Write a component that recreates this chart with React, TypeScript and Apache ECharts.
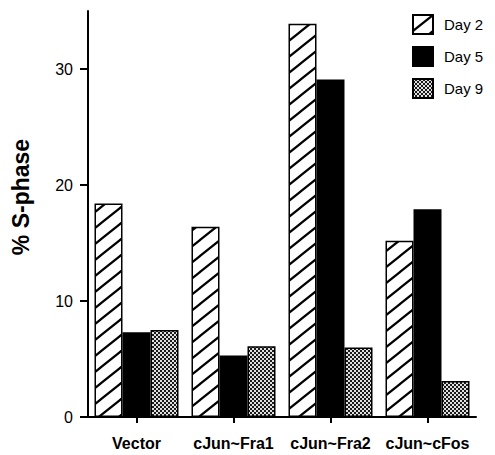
import React, { useEffect, useRef } from "react";
import * as echarts from "echarts";

const categories = ["Vector", "cJun~Fra1", "cJun~Fra2", "cJun~cFos"];
const seriesNames = ["Day 2", "Day 5", "Day 9"];
const day2 = [18.4, 16.4, 33.9, 15.2];
const day5 = [7.3, 5.3, 29.1, 17.9];
const day9 = [7.5, 6.1, 6.0, 3.1];
const yTicks = [0, 10, 20, 30];

const FONT = "'Liberation Sans', Arial, Helvetica, sans-serif";

function hatchCanvas() {
  const w = 20, h = 16;
  const c = document.createElement("canvas");
  c.width = w; c.height = h;
  const ctx = c.getContext("2d")!;
  ctx.fillStyle = "#fff";
  ctx.fillRect(0, 0, w, h);
  ctx.strokeStyle = "#000";
  ctx.lineWidth = 2.2;
  ctx.beginPath();
  ctx.moveTo(-w, 2 * h); ctx.lineTo(2 * w, -h);
  ctx.moveTo(-2 * w, 2 * h); ctx.lineTo(w, -h);
  ctx.moveTo(0, 2 * h); ctx.lineTo(3 * w, -h);
  ctx.stroke();
  return { c, w, h };
}

function dotCanvas() {
  const w = 4, h = 4;
  const c = document.createElement("canvas");
  c.width = w; c.height = h;
  const ctx = c.getContext("2d")!;
  ctx.fillStyle = "#1a1a1a";
  ctx.fillRect(0, 0, w, h);
  ctx.fillStyle = "#e0e0e0";
  ctx.fillRect(0, 0, 2, 2);
  ctx.fillRect(2, 2, 2, 2);
  return { c, w, h };
}

export default function App() {
  const ref = useRef<HTMLDivElement>(null);
  useEffect(() => {
    if (!ref.current) return;
    const chart = echarts.init(ref.current, null, { renderer: "svg" });
    const hatch = hatchCanvas();
    const dots = dotCanvas();
    const fills: any[] = [
      { image: hatch.c, repeat: "repeat", imageWidth: hatch.w, imageHeight: hatch.h },
      "#000",
      { image: dots.c, repeat: "repeat", imageWidth: dots.w, imageHeight: dots.h },
    ];
    const data = [day2, day5, day9];
    chart.setOption({
      animation: false,
      backgroundColor: "#fff",
      grid: { left: 88, right: 19, top: 11, bottom: 38 },
      legend: {
        orient: "vertical",
        left: 407,
        top: 9,
        itemWidth: 20,
        itemHeight: 19,
        itemGap: 11,
        icon: "rect",
        itemStyle: { borderColor: "#000", borderWidth: 2 },
        textStyle: { fontFamily: FONT, fontSize: 15, color: "#000", padding: [0, 0, 0, 6] },
        data: seriesNames,
      },
      xAxis: {
        type: "category",
        data: categories,
        axisLine: { lineStyle: { color: "#000", width: 2 } },
        axisTick: { show: true, alignWithLabel: true, length: 6, lineStyle: { color: "#000", width: 2 } },
        axisLabel: {
          show: true, interval: 0, hideOverlap: false,
          fontFamily: FONT, fontSize: 16, fontWeight: "bold", color: "#000", margin: 18,
        },
      },
      yAxis: {
        type: "value",
        min: 0,
        max: 35,
        interval: 10,
        name: "% S-phase",
        nameLocation: "middle",
        nameGap: 56,
        nameTextStyle: { fontFamily: FONT, fontSize: 23, fontWeight: "bold", color: "#000", padding: [0, 0, 0, 34] },
        splitLine: { show: false },
        axisLine: { show: true, lineStyle: { color: "#000", width: 2 } },
        axisTick: { show: true, length: 8, customValues: yTicks, lineStyle: { color: "#000", width: 2 } },
        axisLabel: {
          fontFamily: FONT, fontSize: 16, color: "#000", margin: 15,
          customValues: yTicks,
        },
      },
      series: seriesNames.map((name, i) => ({
        name,
        type: "bar",
        data: data[i],
        barWidth: 28,
        barGap: "0%",
        barCategoryGap: "13%",
        itemStyle: { color: fills[i], borderColor: "#000", borderWidth: 1.5 },
      })),
    });
    return () => chart.dispose();
  }, []);
  return (
    <div
      ref={ref}
      style={{ position: "absolute", left: 0, top: 0, width: 495, height: 455 }}
    />
  );
}
